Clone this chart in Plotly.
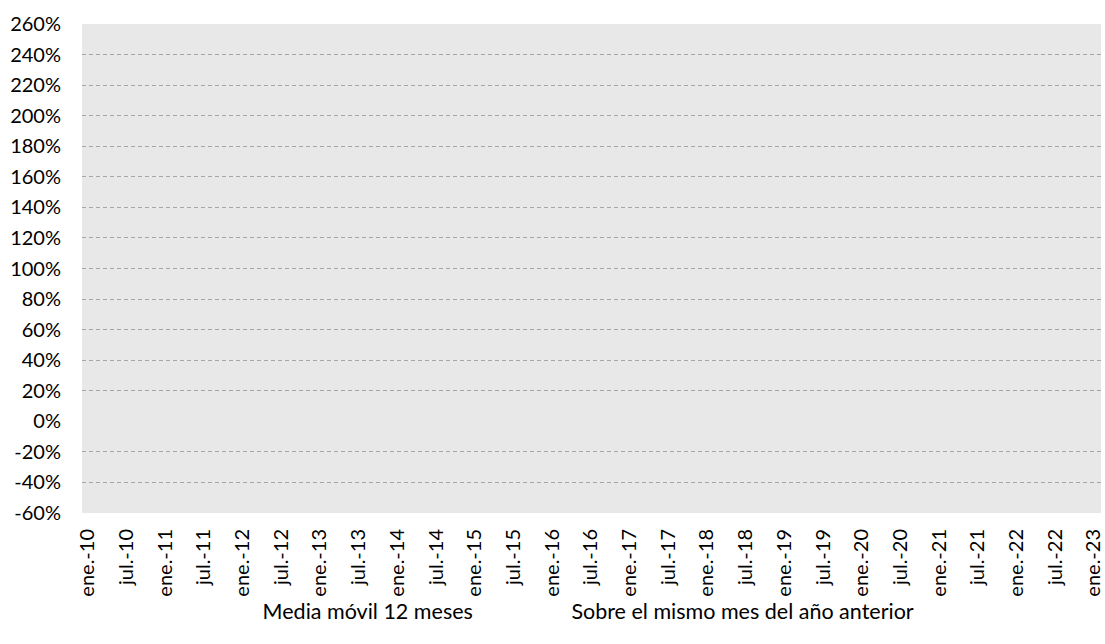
import plotly.graph_objects as go

# Month index (0 = ene.-10) and the labels shown every six months
tick_pos = [0, 6, 12, 18, 24, 30, 36, 42, 48, 54, 60, 66, 72, 78, 84, 90, 96,
            102, 108, 114, 120, 126, 132, 138, 144, 150, 156]
tick_labels = ["ene.-10", "jul.-10", "ene.-11", "jul.-11", "ene.-12", "jul.-12",
               "ene.-13", "jul.-13", "ene.-14", "jul.-14", "ene.-15", "jul.-15",
               "ene.-16", "jul.-16", "ene.-17", "jul.-17", "ene.-18", "jul.-18",
               "ene.-19", "jul.-19", "ene.-20", "jul.-20", "ene.-21", "jul.-21",
               "ene.-22", "jul.-22", "ene.-23"]

y_vals = [-60, -40, -20, 0, 20, 40, 60, 80, 100, 120, 140, 160, 180, 200, 220, 240, 260]
y_labels = ["-60%", "-40%", "-20%", "0%", "20%", "40%", "60%", "80%", "100%", "120%",
            "140%", "160%", "180%", "200%", "220%", "240%", "260%"]

# Series (no observations available for the period)
mes_idx = [None]
media_movil_12m = [None]
mismo_mes_anio_ant = [None]

FONT = "Lato"
FS = 20
FS_LEG = 21.5

fig = go.Figure()
fig.add_trace(go.Scatter(x=mes_idx, y=media_movil_12m, mode="lines",
                         name="Media móvil 12 meses", legend="legend",
                         line=dict(color="rgba(0,0,0,0)", width=2)))
fig.add_trace(go.Scatter(x=mes_idx, y=mismo_mes_anio_ant, mode="lines",
                         name="Sobre el mismo mes del año anterior", legend="legend2",
                         line=dict(color="rgba(0,0,0,0)", width=2)))

fig.update_xaxes(range=[-0.9, 157.1], tickmode="array", tickvals=tick_pos,
                 ticktext=tick_labels, tickangle=-90, showgrid=False,
                 zeroline=False, showline=False, ticks="",
                 ticklabelstandoff=11, ticklabeloverflow="allow",
                 tickfont=dict(family=FONT, size=FS, color="#000000"))
fig.update_yaxes(range=[-60, 260], tickmode="array", tickvals=y_vals,
                 ticktext=y_labels, zeroline=True, zerolinecolor="#e8e8e8",
                 zerolinewidth=1, showline=False, ticks="",
                 ticklabelstandoff=20,
                 tickfont=dict(family=FONT, size=FS, color="#000000"),
                 showgrid=True, gridcolor="#a6a6a6", gridwidth=1,
                 griddash="4px,3px")

leg_common = dict(orientation="h", xanchor="left", y=-0.157, yanchor="top",
                  font=dict(family=FONT, size=FS_LEG, color="#000000"),
                  bgcolor="rgba(0,0,0,0)", itemwidth=30)

fig.update_layout(
    width=1105, height=644,
    margin=dict(l=82, r=1, t=24, b=131, pad=0),
    paper_bgcolor="#ffffff", plot_bgcolor="#e8e8e8",
    font=dict(family=FONT, size=FS, color="#000000"),
    showlegend=True,
    legend=dict(x=0.138, **leg_common),
    legend2=dict(x=0.441, **leg_common),
)

fig.write_html("out.html")
